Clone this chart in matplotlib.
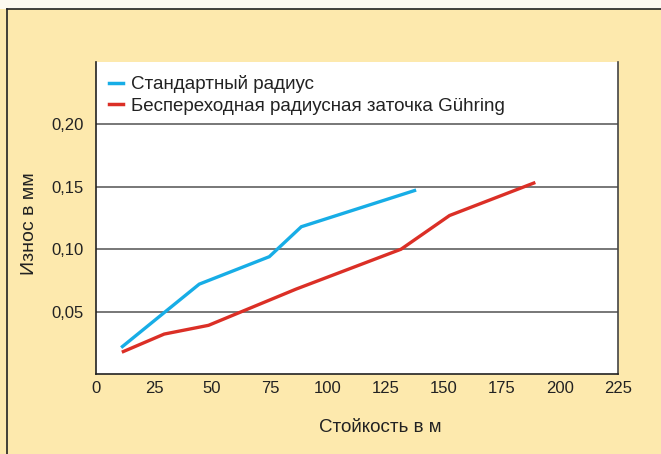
import matplotlib
matplotlib.use("Agg")
import matplotlib.pyplot as plt
from matplotlib.lines import Line2D
from matplotlib.patches import Rectangle

plt.rcParams['font.family'] = ['Liberation Sans', 'DejaVu Sans']

# Data
std_x = [11.4, 28.6, 44.5, 74.7, 88.5, 137.3]
std_y = [0.022, 0.048, 0.072, 0.094, 0.118, 0.147]
gue_x = [11.8, 29.4, 48.5, 86.2, 131.5, 152.4, 188.7]
gue_y = [0.018, 0.032, 0.039, 0.068, 0.100, 0.127, 0.153]
labels = ["Стандартный радиус", "Беспереходная радиусная заточка Gühring"]
x_ticks = [0, 25, 50, 75, 100, 125, 150, 175, 200, 225]
y_ticks = [0.05, 0.10, 0.15, 0.20]
y_tick_labels = ["0,05", "0,10", "0,15", "0,20"]
xlabel = "Стойкость в м"
ylabel = "Износ в мм"

W, H = 661, 454
YELLOW = "#fde9ad"
BLUE = "#17ade6"
RED = "#db2f26"

fig = plt.figure(figsize=(W / 100, H / 100), dpi=100, facecolor=YELLOW)
# top light strip
fig.patches.append(Rectangle((0, 1 - 9 / H), 1, 9 / H, transform=fig.transFigure,
                             facecolor="#fdf9f0", edgecolor="none", zorder=0))
# panel border
fig.lines.append(Line2D([7 / W, 1], [1 - 9 / H, 1 - 9 / H], transform=fig.transFigure,
                        color="#222222", lw=1.2))
fig.lines.append(Line2D([7 / W, 7 / W], [0, 1 - 9 / H], transform=fig.transFigure,
                        color="#222222", lw=1.2))

ax = fig.add_axes([96 / W, (H - 374) / H, (618 - 96) / W, (374 - 62) / H])
ax.set_facecolor("white")

ax.plot(std_x, std_y, color=BLUE, lw=2.4, label=labels[0], solid_joinstyle="miter")
ax.plot(gue_x, gue_y, color=RED, lw=2.4, label=labels[1], solid_joinstyle="miter")

ax.set_xlim(0, 225)
ax.set_ylim(0, 0.25)
ax.set_xticks(x_ticks)
ax.set_xticklabels([str(t) for t in x_ticks])
ax.set_yticks(y_ticks)
ax.set_yticklabels(y_tick_labels)
ax.tick_params(length=0, labelsize=12, colors="#222222", pad=9)
ax.tick_params(axis='x', pad=5)
ax.grid(axis='y', color="#777777", lw=1.4)
ax.set_axisbelow(True)

for s in ["left", "bottom"]:
    ax.spines[s].set_color("#222222")
    ax.spines[s].set_linewidth(1.2)
ax.spines["right"].set_color("#444444")
ax.spines["right"].set_linewidth(1.2)
ax.spines["top"].set_visible(False)

ax.set_xlabel(xlabel, fontsize=13.5, color="#222222")
ax.xaxis.set_label_coords((380 - 96) / 522, -(427 - 374) / 312)
ax.xaxis.label.set_va("center")
ax.set_ylabel(ylabel, fontsize=14, color="#222222")
ax.yaxis.set_label_coords(-(96 - 29) / 522, (374 - 224) / 312)
ax.yaxis.label.set_va("center")

leg = ax.legend(loc="upper left", frameon=False, fontsize=13.5, handlelength=0.75,
                handletextpad=0.4, borderaxespad=0.3, labelspacing=0.25,
                bbox_to_anchor=(0.0, 1.0))
for ln in leg.get_lines():
    ln.set_linewidth(2.5)
for t in leg.get_texts():
    t.set_color("#222222")

fig.savefig("out.png", dpi=100, facecolor=YELLOW)
